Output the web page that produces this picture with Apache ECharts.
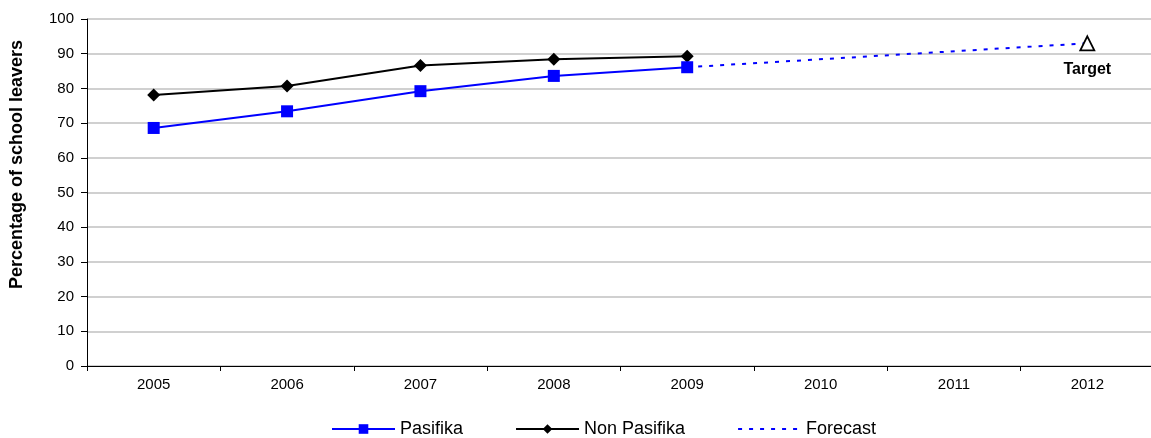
<!DOCTYPE html>
<html><head><meta charset="utf-8">
<script src="https://cdn.jsdelivr.net/npm/echarts@6/dist/echarts.min.js"></script>
<style>html,body{margin:0;padding:0;background:#fff;overflow:hidden}#c{width:1155px;height:438px}</style>
</head><body><div id="c"></div>
<script>
const years = ['2005','2006','2007','2008','2009','2010','2011','2012'];
const pasifika = [68.6, 73.4, 79.2, 83.6, 86.1, null, null, null];
const nonPasifika = [78.1, 80.7, 86.6, 88.4, 89.3, null, null, null];
const forecast = [null, null, null, null, 86.1, null, null, 93];
const target = [null, null, null, null, null, null, null, 93];
const yTicks = [0,10,20,30,40,50,60,70,80,90,100];

const font = '"Liberation Sans", Arial, sans-serif';
const chart = echarts.init(document.getElementById('c'));
chart.setOption({
  animation: false,
  textStyle: {fontFamily: font},
  grid: {left: 86, right: 1, top: 19, bottom: 72, containLabel: false},
  legend: {
    top: 415, left: 326, itemWidth: 63, itemHeight: 12, itemGap: 52,
    textStyle: {fontFamily: font, fontSize: 18, color: '#000'},
    data: ['Pasifika', 'Non Pasifika', {name: 'Forecast', itemStyle: {opacity: 0}}]
  },
  xAxis: {
    type: 'category', data: years, boundaryGap: true,
    axisLine: {lineStyle: {color: '#000', width: 1}},
    axisTick: {show: true, length: 5, lineStyle: {color: '#000'}},
    axisLabel: {color: '#000', fontSize: 15, margin: 11, fontFamily: font}
  },
  yAxis: {
    type: 'value', min: yTicks[0], max: yTicks[yTicks.length-1], interval: 10,
    name: 'Percentage of school leavers', nameLocation: 'middle', nameGap: 61,
    nameTextStyle: {fontWeight: 'bold', fontSize: 18, color: '#000', fontFamily: font, padding: [0, 0, 0, 56]},
    axisLine: {show: true, lineStyle: {color: '#000'}},
    axisTick: {show: true, inside: false, length: 6, lineStyle: {color: '#000'}},
    axisLabel: {color: '#000', fontSize: 15, margin: 13, fontFamily: font},
    splitLine: {show: true, lineStyle: {color: '#c0c0c0', width: 1.5}}
  },
  series: [
    {name: 'Pasifika', type: 'line', data: pasifika, symbol: 'rect', symbolSize: 12,
     itemStyle: {color: '#0000ff'}, lineStyle: {color: '#0000ff', width: 2}, z: 4},
    {name: 'Non Pasifika', type: 'line', data: nonPasifika, symbol: 'diamond', symbolSize: 13,
     itemStyle: {color: '#000'}, lineStyle: {color: '#000', width: 2}, z: 3},
    {name: 'Forecast', type: 'line', data: forecast, connectNulls: true, symbol: 'none',
     lineStyle: {color: '#0000ff', width: 2, type: [4, 7]}, itemStyle: {color: '#0000ff'}, z: 2},
    {name: 'Target', type: 'line', data: target, symbol: 'triangle', symbolSize: [14, 14],
     lineStyle: {width: 0}, itemStyle: {color: '#fff', borderColor: '#000', borderWidth: 1.8},
     label: {show: true, position: 'bottom', distance: 10, formatter: 'Target', fontWeight: 'bold', fontSize: 16, color: '#000', fontFamily: font},
     z: 5}
  ]
});
</script></body></html>
